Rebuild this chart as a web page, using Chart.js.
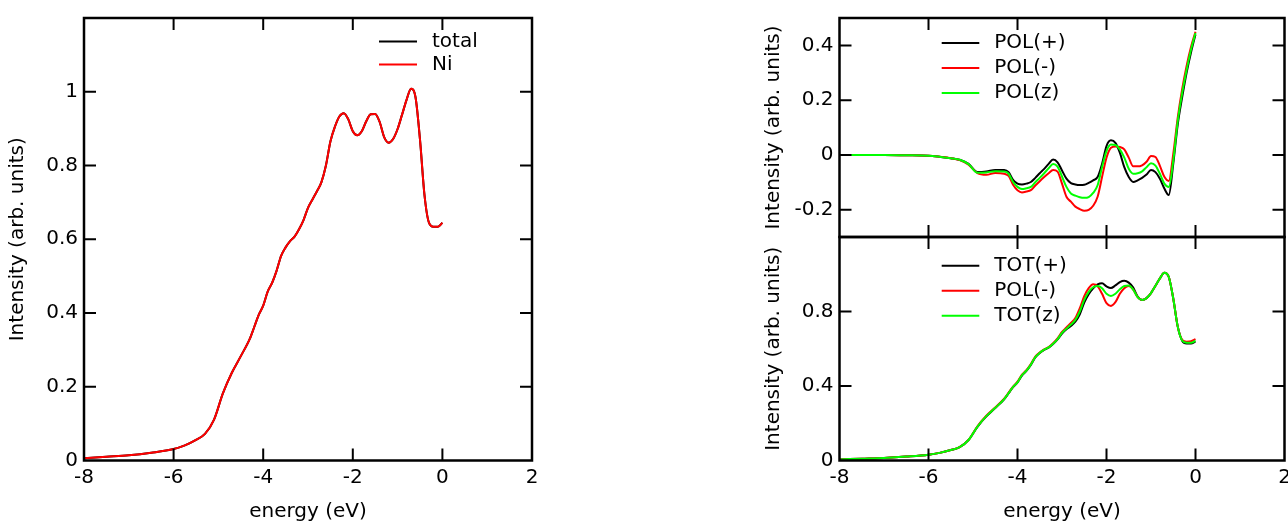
<!DOCTYPE html>
<html><head><meta charset="utf-8">
<script src="https://cdn.jsdelivr.net/npm/chart.js@4.4.0/dist/chart.umd.min.js"></script>
<style>
html,body{margin:0;padding:0;background:#fff;overflow:hidden;width:1288px;height:521px;position:relative;}
canvas{position:absolute;top:0;}
</style></head><body>
<canvas id="cLeft" width="600" height="521" style="left:0px"></canvas>
<canvas id="cPol" width="560" height="521" style="left:740px"></canvas>
<canvas id="cTot" width="560" height="521" style="left:740px"></canvas>
<script>
// ---- data ----
const energy = [-8, -7.5, -7, -6.5, -6, -5.75, -5.5, -5.3, -5.1, -4.9, -4.7, -4.5, -4.3,
  -4.2, -4.1, -4.0, -3.9, -3.8, -3.7, -3.6, -3.5, -3.4, -3.3, -3.2, -3.1, -3.0, -2.9, -2.8, -2.7,
  -2.6, -2.5, -2.4, -2.3, -2.2, -2.1, -2.0, -1.9, -1.8, -1.7, -1.6, -1.5, -1.4, -1.3, -1.2, -1.1,
  -1.0, -0.9, -0.8, -0.7, -0.6, -0.5, -0.4, -0.3, -0.2, -0.1, 0];

const total = [0.006, 0.010, 0.014, 0.021, 0.031, 0.041, 0.056, 0.072, 0.11, 0.182, 0.238, 0.283, 0.33,
  0.362, 0.395, 0.42, 0.458, 0.482, 0.515, 0.555, 0.578, 0.595, 0.607, 0.627, 0.652, 0.685, 0.708, 0.73, 0.755,
  0.80, 0.865, 0.905, 0.933, 0.942, 0.925, 0.893, 0.882, 0.893, 0.92, 0.939, 0.94, 0.918, 0.877, 0.862, 0.872,
  0.899, 0.938, 0.978, 1.008, 0.985, 0.87, 0.72, 0.645, 0.634, 0.634, 0.645];
const ni = [0.006, 0.010, 0.014, 0.021, 0.031, 0.041, 0.056, 0.072, 0.11, 0.182, 0.238, 0.283, 0.33,
  0.362, 0.395, 0.42, 0.458, 0.482, 0.515, 0.555, 0.578, 0.595, 0.607, 0.627, 0.652, 0.685, 0.708, 0.73, 0.755,
  0.80, 0.865, 0.905, 0.933, 0.942, 0.925, 0.893, 0.882, 0.893, 0.92, 0.939, 0.94, 0.918, 0.877, 0.862, 0.872,
  0.899, 0.938, 0.978, 1.008, 0.985, 0.87, 0.72, 0.645, 0.634, 0.634, 0.645];

const polPlus = [0, 0, 0, -0.001, -0.003, -0.007, -0.012, -0.018, -0.033, -0.063, -0.061, -0.055, -0.055,
  -0.063, -0.091, -0.105, -0.108, -0.105, -0.099, -0.084, -0.067, -0.051, -0.033, -0.017, -0.027, -0.057, -0.087, -0.103, -0.108,
  -0.11, -0.109, -0.102, -0.093, -0.081, -0.033, 0.032, 0.053, 0.044, 0.008, -0.045, -0.081, -0.099, -0.093, -0.084, -0.072,
  -0.055, -0.063, -0.087, -0.123, -0.147, -0.033, 0.11, 0.21, 0.30, 0.375, 0.44];
const polMinus = [0, 0, 0, -0.001, -0.003, -0.007, -0.012, -0.019, -0.036, -0.067, -0.073, -0.066, -0.069,
  -0.077, -0.109, -0.129, -0.137, -0.134, -0.129, -0.112, -0.096, -0.081, -0.067, -0.055, -0.061, -0.105, -0.153, -0.171, -0.189,
  -0.198, -0.204, -0.201, -0.186, -0.153, -0.081, -0.01, 0.026, 0.031, 0.029, 0.02, -0.01, -0.042, -0.042, -0.038, -0.025,
  -0.004, -0.008, -0.04, -0.08, -0.095, 0.003, 0.135, 0.24, 0.325, 0.395, 0.45];
const polZ = [0, 0, 0, -0.001, -0.003, -0.007, -0.012, -0.018, -0.034, -0.065, -0.064, -0.06, -0.061,
  -0.069, -0.099, -0.117, -0.125, -0.122, -0.117, -0.1, -0.084, -0.067, -0.049, -0.033, -0.043, -0.079, -0.117, -0.141, -0.149,
  -0.155, -0.157, -0.154, -0.139, -0.111, -0.045, 0.014, 0.038, 0.036, 0.02, -0.01, -0.051, -0.069, -0.067, -0.06, -0.045,
  -0.031, -0.039, -0.069, -0.105, -0.117, -0.022, 0.122, 0.225, 0.31, 0.385, 0.445];

const totPlus = [0.006, 0.010, 0.014, 0.021, 0.031, 0.041, 0.056, 0.072, 0.11, 0.181, 0.237, 0.282, 0.329,
  0.361, 0.394, 0.419, 0.456, 0.481, 0.513, 0.553, 0.577, 0.594, 0.606, 0.625, 0.65, 0.682, 0.705, 0.722, 0.745,
  0.785, 0.848, 0.893, 0.925, 0.945, 0.952, 0.935, 0.926, 0.94, 0.958, 0.965, 0.955, 0.928, 0.88, 0.862, 0.872,
  0.899, 0.938, 0.978, 1.008, 0.985, 0.87, 0.72, 0.643, 0.628, 0.628, 0.638];
const totMinus = [0.006, 0.010, 0.014, 0.021, 0.031, 0.041, 0.056, 0.072, 0.111, 0.184, 0.24, 0.285, 0.332,
  0.364, 0.397, 0.423, 0.461, 0.485, 0.518, 0.558, 0.58, 0.597, 0.609, 0.63, 0.656, 0.69, 0.714, 0.738, 0.765,
  0.818, 0.882, 0.925, 0.946, 0.935, 0.895, 0.845, 0.83, 0.85, 0.895, 0.925, 0.937, 0.918, 0.877, 0.862, 0.872,
  0.899, 0.938, 0.978, 1.008, 0.985, 0.87, 0.72, 0.648, 0.638, 0.64, 0.652];
const totZ = [0.006, 0.010, 0.014, 0.021, 0.031, 0.041, 0.056, 0.072, 0.11, 0.182, 0.238, 0.283, 0.33,
  0.362, 0.395, 0.42, 0.458, 0.482, 0.515, 0.555, 0.578, 0.595, 0.607, 0.627, 0.652, 0.685, 0.708, 0.73, 0.755,
  0.80, 0.862, 0.905, 0.93, 0.937, 0.925, 0.895, 0.883, 0.895, 0.92, 0.937, 0.94, 0.918, 0.877, 0.862, 0.872,
  0.899, 0.938, 0.978, 1.008, 0.985, 0.87, 0.72, 0.644, 0.632, 0.632, 0.643];

const xTicks = [-8, -6, -4, -2, 0, 2];
const xTickLabels = ['-8', '-6', '-4', '-2', '0', '2'];
const leftYTicks = [0, 0.2, 0.4, 0.6, 0.8, 1, 1.2];
const leftYTickLabels = ['0', '0.2', '0.4', '0.6', '0.8', '1', ''];
const polYTicks = [-0.2, 0, 0.2, 0.4];
const polYTickLabels = ['-0.2', '0', '0.2', '0.4'];
const totYTicks = [0, 0.4, 0.8, 1.2];
const totYTickLabels = ['0', '0.4', '0.8', ''];

const leftNames = ['total', 'Ni'];
const polNames = ['POL(+)', 'POL(-)', 'POL(z)'];
const totNames = ['TOT(+)', 'POL(-)', 'TOT(z)'];
const xTitle = 'energy (eV)';
const yTitle = 'Intensity (arb. units)';

// ---- styling ----
const FONT = "'DejaVu Sans', sans-serif";
const FS = 20;
const COLORS = ['#000000', '#ff0000', '#00ff00'];
Chart.defaults.font.family = FONT;
Chart.defaults.font.size = FS;
Chart.defaults.color = '#000';

const framePlugin = {
  id: 'frameTicks',
  afterDraw(chart) {
    const {ctx, chartArea: a} = chart;
    const x = chart.scales.x, y = chart.scales.y;
    ctx.save();
    ctx.strokeStyle = '#000';
    ctx.lineWidth = 2.5;
    ctx.strokeRect(a.left, a.top, a.right - a.left, a.bottom - a.top);
    ctx.lineWidth = 2;
    const L = 12;
    ctx.beginPath();
    x.ticks.forEach(t => {
      const p = x.getPixelForValue(t.value);
      if (p <= a.left + 1 || p >= a.right - 1) return;
      ctx.moveTo(p, a.bottom); ctx.lineTo(p, a.bottom - L);
      ctx.moveTo(p, a.top); ctx.lineTo(p, a.top + L);
    });
    y.ticks.forEach(t => {
      const p = y.getPixelForValue(t.value);
      if (p <= a.top + 1 || p >= a.bottom - 1) return;
      ctx.moveTo(a.left, p); ctx.lineTo(a.left + L, p);
      ctx.moveTo(a.right, p); ctx.lineTo(a.right - L, p);
    });
    ctx.stroke();
    ctx.restore();
  }
};

const legendPlugin = {
  id: 'lineLegend',
  afterDraw(chart, args, opts) {
    const {ctx} = chart;
    ctx.save();
    ctx.font = FS + 'px ' + FONT;
    ctx.textBaseline = 'middle';
    ctx.textAlign = 'left';
    chart.data.datasets.forEach((ds, i) => {
      const yy = opts.y + i * opts.dy;
      ctx.strokeStyle = ds.borderColor;
      ctx.lineWidth = 2;
      ctx.beginPath();
      ctx.moveTo(opts.x, yy); ctx.lineTo(opts.x + opts.len, yy);
      ctx.stroke();
      ctx.fillStyle = '#000';
      ctx.fillText(ds.label, opts.x + opts.len + opts.gap, yy);
    });
    ctx.restore();
  }
};

function lookup(ticks, labels) {
  return function (v) { const i = ticks.indexOf(v); return i >= 0 ? labels[i] : ''; };
}

function makeChart(id, series, names, cfg) {
  const datasets = series.map((arr, i) => ({
    label: names[i],
    data: energy.map((e, k) => ({x: e, y: arr[k]})),
    borderColor: COLORS[i],
    borderWidth: 2,
    pointRadius: 0,
    fill: false,
    cubicInterpolationMode: 'monotone',
    order: series.length - i
  }));
  return new Chart(document.getElementById(id), {
    type: 'line',
    data: {datasets},
    options: {
      responsive: false,
      animation: false,
      devicePixelRatio: 1,
      layout: {padding: cfg.padding},
      plugins: {legend: {display: false}, tooltip: {enabled: false}, lineLegend: cfg.legend},
      scales: {
        x: {
          type: 'linear', min: -8, max: 2,
          afterBuildTicks: s => { s.ticks = xTicks.map(v => ({value: v})); },
          ticks: {display: cfg.showX, padding: 5, autoSkip: false, maxRotation: 0, callback: lookup(xTicks, xTickLabels)},
          grid: {display: false, drawTicks: false},
          border: {display: false},
          title: {display: cfg.showX, text: xTitle, font: {size: FS, lineHeight: 1}, padding: {top: 0, bottom: -1}},
          afterFit: s => { s.height = cfg.xHeight; }
        },
        y: {
          type: 'linear', min: cfg.yMin, max: cfg.yMax,
          afterBuildTicks: s => { s.ticks = cfg.yTicks.map(v => ({value: v})); },
          ticks: {padding: 6, autoSkip: false, callback: lookup(cfg.yTicks, cfg.yLabels)},
          grid: {display: false, drawTicks: false},
          border: {display: false},
          title: {display: true, text: yTitle, font: {size: FS, lineHeight: 1}, padding: {top: cfg.yTitlePad, bottom: 0}},
          afterFit: s => { s.width = cfg.yWidth; }
        }
      }
    },
    plugins: [framePlugin, legendPlugin]
  });
}

makeChart('cLeft', [total, ni], leftNames, {
  padding: {left: 0, top: 14, right: 68, bottom: 0},
  xHeight: 60.5, yWidth: 84, showX: true, yTitlePad: 8,
  yMin: 0, yMax: 1.2, yTicks: leftYTicks, yLabels: leftYTickLabels,
  legend: {x: 379, y: 41.5, dy: 23, len: 38, gap: 15}
});
makeChart('cPol', [polPlus, polMinus, polZ], polNames, {
  padding: {left: 0, top: 14, right: 15.5, bottom: 284},
  xHeight: 0, yWidth: 99.5, showX: false, yTitlePad: 24,
  yMin: -0.3, yMax: 0.5, yTicks: polYTicks, yLabels: polYTickLabels,
  legend: {x: 201.7, y: 43, dy: 25, len: 37.6, gap: 15}
});
makeChart('cTot', [totPlus, totMinus, totZ], totNames, {
  padding: {left: 0, top: 237, right: 15.5, bottom: 0},
  xHeight: 60.5, yWidth: 99.5, showX: true, yTitlePad: 24,
  yMin: 0, yMax: 1.2, yTicks: totYTicks, yLabels: totYTickLabels,
  legend: {x: 201.7, y: 265.7, dy: 25, len: 37.6, gap: 15}
});
</script>
</body></html>
